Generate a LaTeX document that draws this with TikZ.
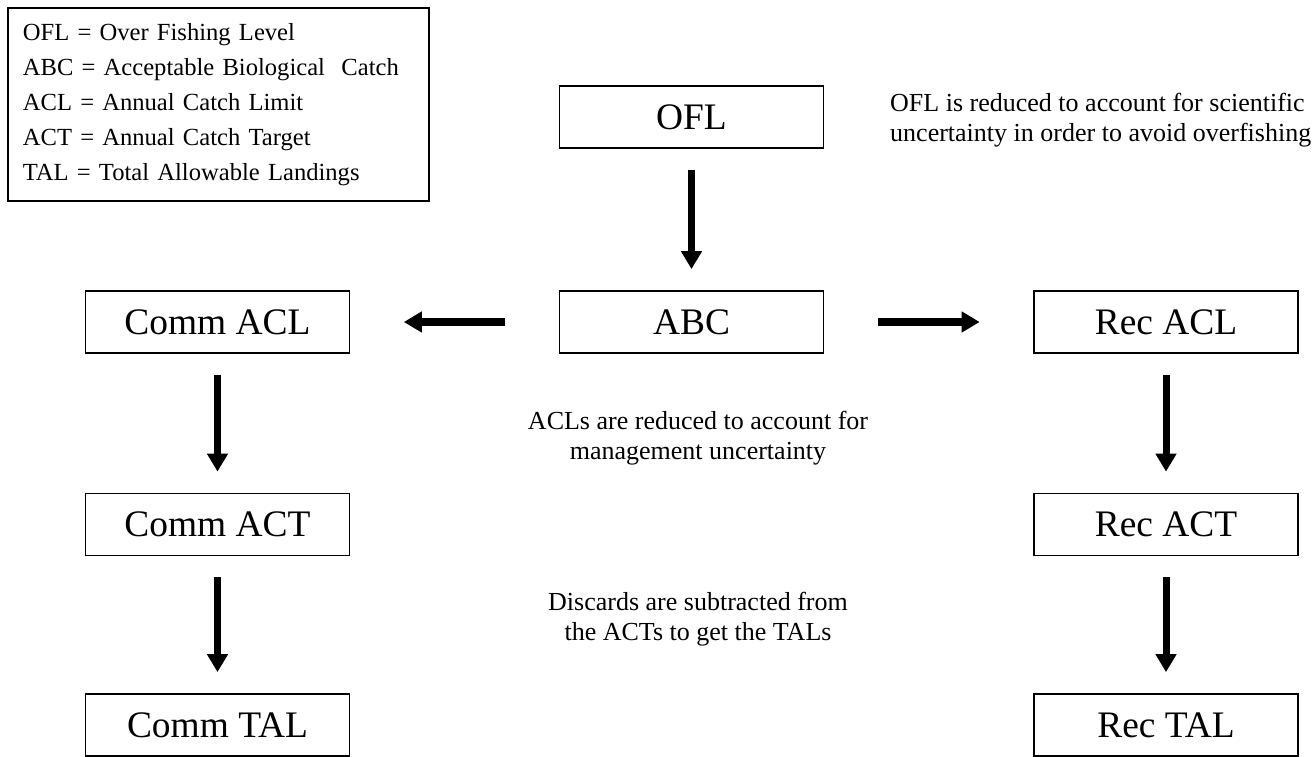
\documentclass[tikz,border=0pt]{standalone}
\usepackage{fontspec}
\setmainfont{Liberation Serif}
\usetikzlibrary{arrows.meta}
\tikzset{
  box/.style={draw, line width=1pt, minimum width=5.28cm, minimum height=1.24cm, inner sep=0pt,
    font=\fontsize{21.3}{25}\selectfont},
  arr/.style={line width=4pt, -{Triangle[length=.36cm,width=.4cm]}},
  note/.style={align=center, font=\fontsize{14.8}{17.2}\selectfont}
}
\begin{document}
\begin{tikzpicture}[x=0.02cm, y=-0.02cm]
      \useasboundingbox (0,0) rectangle (1315,757);
      % legend
      \node[draw, line width=1pt, anchor=north west, text width=7.82cm, inner xsep=.3cm,
        minimum height=3.86cm, align=left, font=\fontsize{14}{19.9}\selectfont] (legend) at (7,7)
        {OFL = Over Fishing Level\\ABC = Acceptable Biological\ \ Catch\\ACL = Annual Catch Limit\\
         ACT = Annual Catch Target\\TAL = Total Allowable Landings};
      \foreach \n/\x/\y/\t in {ofl/691.5/117/OFL, abc/691.5/322/ABC,
        cacl/217.5/322/Comm ACL, cact/217.5/524.5/Comm ACT, ctal/217.5/725/Comm TAL,
        racl/1166/322/Rec ACL, ract/1166/524.5/Rec ACT, rtal/1166/725/Rec TAL}{
        \node[box](\n) at(\x,\y) {\t};
      }
      \node[note, align=left, anchor=west](ofltxt) at(884,120)
        {OFL is reduced to account for scientific\\uncertainty in order to avoid overfishing};
      \node[note](acltxt) at(698,438) {ACLs are reduced to account for\\management uncertainty};
      \node[note](disctxt) at(698,619) {Discards are subtracted from\\the ACTs to get the TALs};
      \foreach \a/\b in {ofl/abc, cacl/cact, cact/ctal, racl/ract, ract/rtal}{
        \draw[arr, shorten <=.42cm, shorten >=.42cm](\a)--(\b);
      }
      \foreach \b in {cacl, racl}{
        \draw[arr, shorten <=1.08cm, shorten >=1.07cm](abc)--(\b);
      }
    \end{tikzpicture}
\end{document}
